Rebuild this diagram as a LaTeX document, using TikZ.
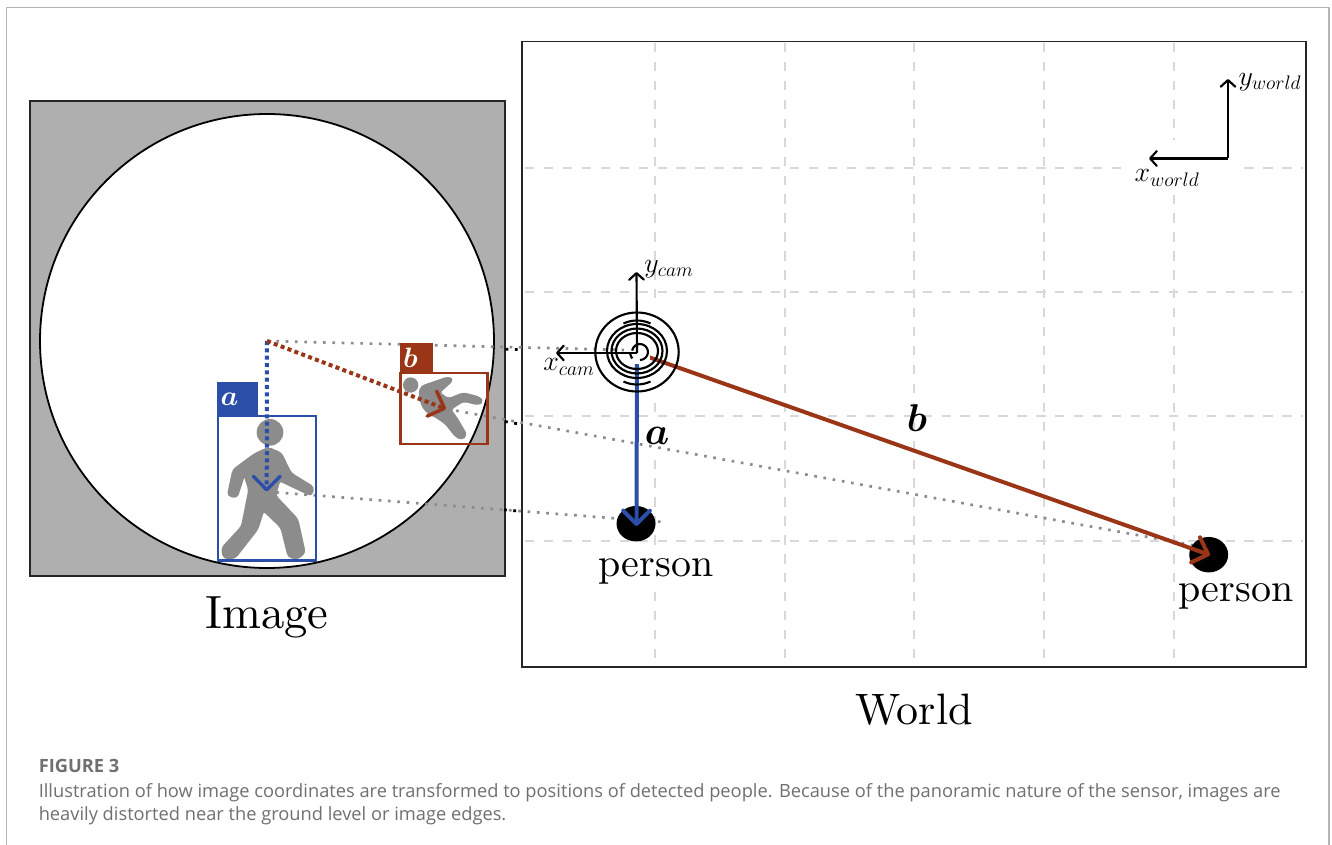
\documentclass[tikz,border=0pt]{standalone}
\usepackage{fix-cm}
\usepackage{amsmath}
\usepackage{bm}
\usepackage{fontspec}
\usetikzlibrary{arrows.meta,shapes.geometric}
\newfontfamily\capfont{Open Sans}
\newfontfamily\lmten[Extension=.otf]{lmroman10-regular}
\newcommand{\szT}[1]{\fontsize{#1}{#1}\selectfont}
\definecolor{blueA}{HTML}{2B4FA8}
\definecolor{redB}{HTML}{9B3517}
\definecolor{grayBox}{HTML}{AFAFAF}
\definecolor{gridC}{HTML}{D8D8D8}
\definecolor{figC}{HTML}{8C8C8C}
\definecolor{capC}{HTML}{707070}
\definecolor{frameC}{HTML}{B4B4B4}
\tikzset{
  px/.style={x=0.75pt,y=-0.75pt},
  gridline/.style={draw=gridC,line width=0.85pt,dash pattern=on 7pt off 7.2pt},
  boxline/.style={draw=black!85,line width=1.35pt},
  dotgray/.style={draw=black!45,line width=2pt,dash pattern=on 2pt off 5pt},
  dotblack/.style={draw=black,line width=2.1pt,dash pattern=on 2.1pt off 4.9pt},
  axisline/.style={draw=black,line width=1.6pt,-{Straight Barb[length=5pt,width=11pt,round,line width=1.6pt]}},
  solidarrow/.style={line width=3pt,-{Straight Barb[length=10pt,width=20pt,round,line width=3pt]}},
  dotarrow/.style={line width=3pt,dash pattern=on 3pt off 2.5pt,-{Straight Barb[length=10pt,width=20pt,round,line width=2.6pt]}},
  ring/.style={draw=black,line width=1.6pt},
  figshape/.style={fill=figC,draw=figC,line width=1.6pt,line join=round,rounded corners=2.5pt},
  mtxt/.style={inner sep=0pt,anchor=center},
}
\begin{document}
\begin{tikzpicture}[px]
\useasboundingbox (0,0) rectangle (1332,845);
\fill[white] (0,0) rectangle (1332,845);
% page frame
\coordinate (fA) at (6.5,845); \coordinate (fB) at (6.5,7.5);
\coordinate (fC) at (1329,7.5); \coordinate (fD) at (1329,845);
\draw[frameC,line width=0.9pt] (fA) -- (fB) -- (fC) -- (fD);

% world grid
\foreach \x in {655,785,914,1044,1174} \draw[gridline] (\x,43) -- (\x,665);
\foreach \y in {168,292,416,541} \draw[gridline] (525,\y) -- (1303,\y);
\fill[white] (1122,140) rectangle (1243,195);
\fill[white] (600,308) rectangle (680,400);
\fill[white] (648,419) rectangle (672,459);
\fill[white] (595,545) rectangle (715,585);
\draw[boxline] (522,41.5) rectangle (1306,667);

% image
\draw[boxline,fill=grayBox] (30,101) rectangle (505,576);
\node[circle,draw=black,line width=1.35pt,fill=white,minimum size=340.5pt,inner sep=0pt] (lens) at (267,341) {};

% person figures
\begin{scope}[shift={(200,330)},x=0.25pt,y=-0.25pt]
 \fill[figC] (210,307) circle (40);
 \path[figshape] (205,354) -- (243,370) -- (272,430) -- (340,472) -- (334,496)
   -- (262,462) -- (238,450) -- (225,497) -- (292,568) -- (314,668) -- (292,686) -- (266,680)
   -- (244,592) -- (190,540) -- (172,597) -- (104,684) -- (72,684) -- (66,655) -- (126,590)
   -- (148,480) -- (133,432) -- (110,502) -- (84,496) -- (100,420) -- (165,372) -- cycle;
 \fill[figC] (632,165) circle (23);
 \path[figshape] (664,170) -- (745,142) -- (758,150) -- (716,188)
   -- (745,208) -- (790,190) -- (840,203) -- (846,215) -- (835,223) -- (790,212) -- (750,238)
   -- (770,265) -- (799,315) -- (785,328) -- (767,318) -- (737,280) -- (700,255) -- (690,254)
   -- (668,230) -- (658,192) -- cycle;
\end{scope}

% dotted sight lines
\coordinate (oI) at (267,341);
\coordinate (camP) at (637,353);
\coordinate (topEnd) at (625,350);
\coordinate (aS) at (267,491.7); \coordinate (aE) at (663,522);
\coordinate (bS) at (447,409); \coordinate (bE) at (1228,551.6);
\draw[dotgray] (oI) -- (topEnd);
\draw[dotgray] (aS) -- (aE);
\draw[dotgray] (bS) -- (bE);
\coordinate (k1) at (505.5,349.2); \coordinate (k2) at (519,349.5);
\coordinate (k3) at (505,421.5); \coordinate (k4) at (519,424);
\coordinate (k5) at (504,509.8); \coordinate (k6) at (518,511);
\draw[dotblack] (k1) -- (k2);
\draw[dotblack] (k3) -- (k4);
\draw[dotblack] (k5) -- (k6);

% person blobs
\node[ellipse,fill=black,minimum width=29.2pt,minimum height=26.6pt,inner sep=0pt] (pa) at (636,523.7) {};
\node[ellipse,fill=black,minimum width=29.2pt,minimum height=26.6pt,inner sep=0pt] (pb) at (1208.7,554.7) {};

% world vectors
\coordinate (tipA) at (636.5,526);
\coordinate (tipB) at (1210,555);
\draw[blueA,solidarrow] (camP) -- (tipA);
\draw[redB,solidarrow] (camP) -- (tipB);

% image vectors
\coordinate (tipIA) at (266.7,491.5);
\coordinate (tipIB) at (446,409);
\draw[blueA,dotarrow] (oI) -- (tipIA);
\draw[redB,dotarrow] (oI) -- (tipIB);

% detection boxes
\draw[blueA,line width=1.7pt] (218,416) rectangle (316,560.5);
\draw[redB,line width=1.7pt] (400.5,373) rectangle (487.5,444);
\fill[blueA] (217,381.5) rectangle (258,416);
\fill[redB] (400,343) rectangle (433,373);
\node[mtxt,text=white,font=\szT{21}] (la) at (229.5,399) {$\bm{a}$};
\node[mtxt,text=white,font=\szT{21}] (lb) at (410.5,358) {$\bm{b}$};

% camera
\coordinate (ringC) at (637,351);
\draw[ring] (637,352) ellipse (41.7 and 39.5);
\draw[ring] (ringC) ellipse (30 and 27);
\draw[ring] (ringC) ellipse (25.5 and 22.5);
\draw[ring] (ringC) ellipse (21 and 18);
\draw[ring] (637,352.5) ++(65:32) arc (65:115:32) ;
\draw[ring] (637,352.5) ++(245:32) arc (245:295:32);
\fill[white] (ringC) ++(-13,-13) rectangle ++(26,26);
\draw[ring] (640,352) ++(90:8) arc (90:-170:8);
\draw[ring] (640,352) ++(140:10) arc (140:170:10);

% axes
\coordinate (yC) at (636.5,272); \coordinate (xC) at (556,353);
\draw[axisline] (camP) -- (yC);
\draw[axisline] (camP) -- (xC);
\coordinate (oW) at (1228,158.5); \coordinate (yW) at (1228,79); \coordinate (xW) at (1149,158.5);
\draw[axisline] (oW) -- (yW);
\draw[axisline] (oW) -- (xW);

% labels
\node[mtxt,font=\szT{21}] (tyc) at (669,269) {$y_{cam}$};
\node[mtxt,font=\szT{21}] (txc) at (569,367) {$x_{cam}$};
\node[mtxt,font=\szT{21}] (tyw) at (1270,82) {$y_{world}$};
\node[mtxt,font=\szT{21}] (txw) at (1167,178) {$x_{world}$};
\node[mtxt,font=\szT{29}] (ta) at (657,436) {$\bm{a}$};
\node[mtxt,font=\szT{29}] (tb) at (917,418) {$\bm{b}$};
\node[mtxt,font=\lmten\szT{30},anchor=base] (tp1) at (656,576) {person};
\node[mtxt,font=\lmten\szT{30},anchor=base] (tp2) at (1236,601) {person};
\node[mtxt,font=\lmten\szT{35},anchor=base] (tim) at (267,628) {Image};
\node[mtxt,font=\lmten\szT{33},anchor=base] (twd) at (914,724) {World};

% caption
\node[inner sep=0pt,anchor=base west,text=capC,font=\capfont\bfseries\szT{13.7}] (cap0) at (38.5,772) {FIGURE 3};
\node[inner sep=0pt,anchor=base west,text=capC,font=\capfont\szT{13.7}] (cap1) at (38.5,797) {Illustration of how image coordinates are transformed to positions of detected people. Because of the panoramic nature of the sensor, images are};
\node[inner sep=0pt,anchor=base west,text=capC,font=\capfont\szT{13.7}] (cap2) at (38.5,820) {heavily distorted near the ground level or image edges.};
\end{tikzpicture}
\end{document}
